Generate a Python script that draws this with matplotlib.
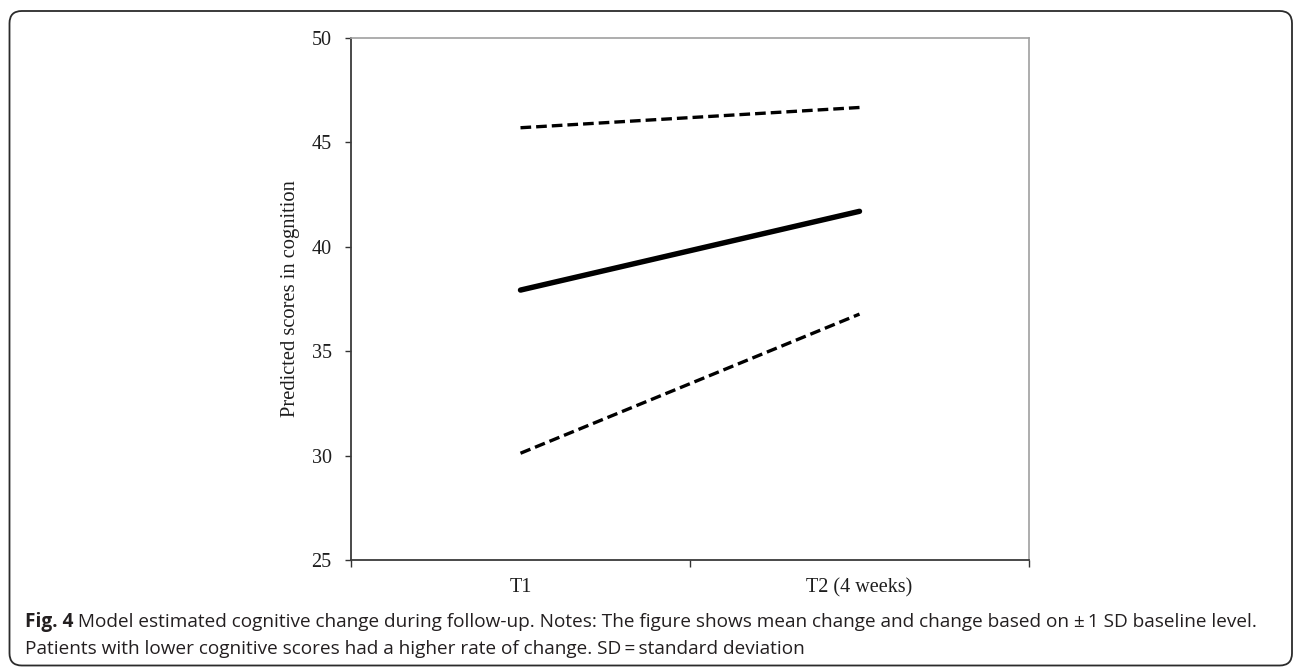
import matplotlib
matplotlib.use("Agg")
import matplotlib.pyplot as plt
from matplotlib.patches import FancyBboxPatch

# Data
categories = ["T1", "T2 (4 weeks)"]
mean_scores = [37.92, 41.69]
plus_sd_scores = [45.69, 46.66]
minus_sd_scores = [30.11, 36.77]
y_ticks = [25, 30, 35, 40, 45, 50]
y_label = "Predicted scores in cognition"
caption_bold = "Fig. 4"
caption_line1 = " Model estimated cognitive change during follow-up. Notes: The figure shows mean change and change based on \u00b1\u20091 SD baseline level."
caption_line2 = "Patients with lower cognitive scores had a higher rate of change. SD\u2009=\u2009standard deviation"

W, H = 1293, 668
fig = plt.figure(figsize=(W / 100, H / 100), dpi=100)
fig.patch.set_facecolor("white")

# Outer rounded frame
fx0, fy0, fx1, fy1 = 9.5, 2.5, 1292.0, 657.0   # left, bottom, right, top (pixels from bottom-left)
frame = FancyBboxPatch((fx0 / W, fy0 / H), (fx1 - fx0) / W, (fy1 - fy0) / H,
                       boxstyle="round,pad=0,rounding_size=0.0095",
                       transform=fig.transFigure, fill=False,
                       edgecolor="#2b2b2b", linewidth=1.3, mutation_aspect=W / H,
                       clip_on=False)
fig.patches.append(frame)

ax_left, ax_right = 351 / W, 1029 / W
ax_top, ax_bottom = 1 - 37.7 / H, 1 - 560 / H
ax = fig.add_axes([ax_left, ax_bottom, ax_right - ax_left, ax_top - ax_bottom])

x_pos = [0.5, 1.5]
dash = (0, (3.2, 1.5))
ax.plot(x_pos, plus_sd_scores, color="black", lw=2.4, linestyle=dash)
ax.plot(x_pos, mean_scores, color="black", lw=3.9, solid_capstyle="round")
ax.plot(x_pos, minus_sd_scores, color="black", lw=2.4, linestyle=dash)

ax.set_xlim(0, 2)
ax.set_ylim(25, 50)

serif = "Liberation Serif"
txt_col = "#1e1e1e"
ax.set_yticks(y_ticks)
ax.set_yticklabels([str(v) for v in y_ticks], family=serif, fontsize=14.5, color=txt_col)
ax.set_xticks([0, 1, 2])
ax.set_xticklabels(["", "", ""])
ax.set_xticks(x_pos, minor=True)
ax.set_xticklabels(categories, minor=True, family=serif, fontsize=14.5, color=txt_col)
ax.tick_params(axis="x", which="minor", length=0, pad=13)
ax.tick_params(axis="x", which="major", length=5, width=1, color="#333333", direction="out")
ax.tick_params(axis="y", length=4, width=1, color="#333333", direction="out", pad=10)

for s in ["left", "bottom"]:
    ax.spines[s].set_color("#3a3a3a")
    ax.spines[s].set_linewidth(1.3)
for s in ["top", "right"]:
    ax.spines[s].set_color("#a0a0a0")
    ax.spines[s].set_linewidth(1.2)

ax.set_ylabel(y_label, family=serif, fontsize=14.8, color=txt_col)
ax.yaxis.set_label_coords((300 - 351) / (1029 - 351), 0.5)

# Caption, sized so that the first line spans from x=25 to x=1252 px
cap_font = "Open Sans"
cap_col = "#231f20"
x_start, x_end = 25, 1252
size = 12.0
t_bold = fig.text(x_start / W, 1 - 622 / H, caption_bold, family=cap_font, fontsize=size,
                  fontweight="bold", va="center", ha="left", color=cap_col)
t_rest = fig.text(0, 1 - 622 / H, caption_line1, family=cap_font, fontsize=size,
                  va="center", ha="left", color=cap_col)
r = fig.canvas.get_renderer()
total = t_bold.get_window_extent(r).width + t_rest.get_window_extent(r).width
size = size * (x_end - x_start) / total
t_bold.set_fontsize(size)
t_rest.set_fontsize(size)
bb = t_bold.get_window_extent(r)
t_rest.set_x(bb.x1 / W)
fig.text(x_start / W, 1 - 649 / H, caption_line2, family=cap_font, fontsize=size,
         va="center", ha="left", color=cap_col)

fig.savefig("out.png", dpi=100, facecolor="white")
